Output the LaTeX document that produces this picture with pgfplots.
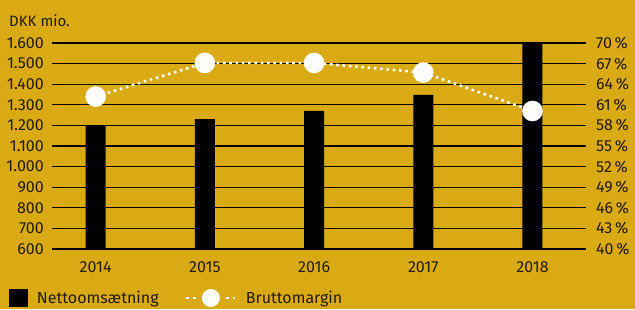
\documentclass[border=0pt]{standalone}
\usepackage{pgfplots}
\pgfplotsset{compat=1.18}
\usepackage{fontspec}
\setmainfont{Fira Sans}
\definecolor{bg}{RGB}{217,170,20}
\definecolor{txt}{RGB}{35,28,10}
\begin{document}
\fontsize{15pt}{18pt}\selectfont
\begin{tikzpicture}[x=1pt,y=1pt]
\fill[bg] (0,0) rectangle (635,309);
\useasboundingbox (0,0) rectangle (635,309);
\node[anchor=base west, text=txt, inner sep=0pt, font=\fontsize{15pt}{18pt}\selectfont] at (9,283) {DKK mio.};
\begin{axis}[
  at={(52pt,60pt)}, anchor=south west,
  scale only axis, width=534pt, height=206pt,
  xmin=-0.4, xmax=4.49, ymin=600, ymax=1600,
  axis line style={draw=none}, major tick length=0pt,
  ytick={600,700,...,1600},
  yticklabels={600,700,800,900,1.000,1.100,1.200,1.300,1.400,1.500,1.600},
  ymajorgrids, major grid style={black, line width=1.3pt},
  xtick={0,1,2,3,4}, xticklabels={2014,2015,2016,2017,2018},
  tick label style={text=txt, font=\fontsize{16pt}{19pt}\selectfont},
  yticklabel style={anchor=east, inner sep=0pt, xshift=-8pt},
  xticklabel style={anchor=north, inner sep=0pt, yshift=-12pt},
  ybar, bar width=20pt, bar shift=0pt,
]
\addplot[fill=black, draw=none] coordinates {(0,1200)(1,1230)(2,1270)(3,1348)(4,1600)};
\end{axis}
\begin{axis}[
  at={(52pt,60pt)}, anchor=south west,
  scale only axis, width=534pt, height=206pt,
  xmin=-0.4, xmax=4.49, ymin=40, ymax=70,
  axis line style={draw=none}, major tick length=0pt,
  ytick={40,43,...,70},
  yticklabels={40\,\%,43\,\%,46\,\%,49\,\%,52\,\%,55\,\%,58\,\%,61\,\%,64\,\%,67\,\%,70\,\%},
  yticklabel pos=right,
  xtick=\empty,
  tick label style={text=txt, font=\fontsize{16pt}{19pt}\selectfont},
  yticklabel style={anchor=west, inner sep=0pt, xshift=10pt},
  legend style={at={(axis description cs:0,0)}, anchor=west, xshift=-43pt, yshift=-49pt,
    draw=none, fill=none, inner sep=0pt, outer sep=0pt, column sep=0pt,
    nodes={inner sep=0pt, text=txt, font=\fontsize{16pt}{19pt}\selectfont},
    /tikz/every even column/.append style={column sep=26pt}},
  legend columns=2, legend cell align=left,
]
\addlegendimage{legend image code/.code={\path[fill=black, draw=none] (0pt,-9pt) rectangle (19pt,9pt); \path[draw=none] (28pt,0pt);}}
\addlegendentry{Nettoomsætning}
\addplot[white, line width=2.6pt, dash pattern=on 2.6pt off 3.7pt,
  mark=*, mark size=9pt, mark options={solid, fill=white, draw=none},
  legend image code/.code={
    \draw[white, line width=2.6pt, dash pattern=on 2.6pt off 4.4pt] (0pt,0pt) -- (10pt,0pt);
    \draw[white, line width=2.6pt, dash pattern=on 2.6pt off 4.4pt] (40pt,0pt) -- (49pt,0pt);
    \path[fill=white, draw=none, solid] (25pt,0pt) circle (9pt);
    \path[draw=none] (60pt,0pt);}]
  coordinates {(0,62.2)(1,67.1)(2,67.1)(3,65.7)(4,60.1)};
\addlegendentry{Bruttomargin}
\end{axis}
\end{tikzpicture}
\end{document}
